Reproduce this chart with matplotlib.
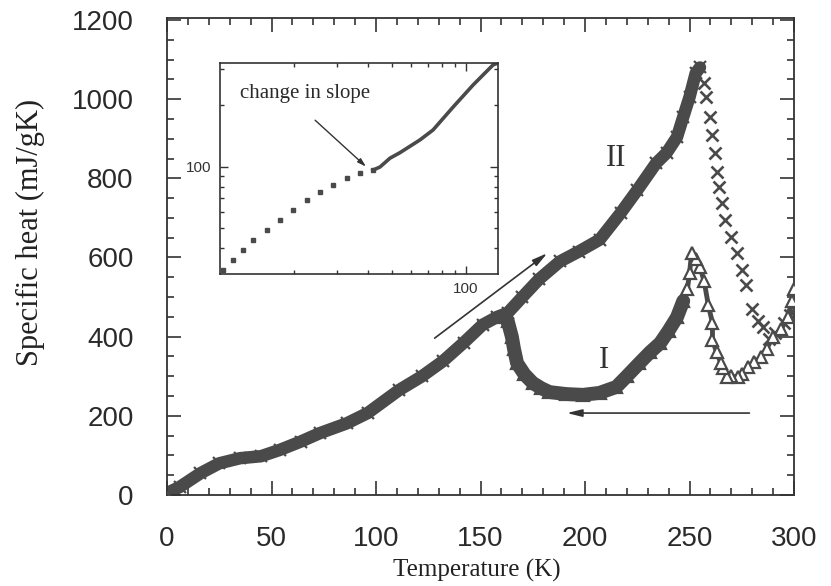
import matplotlib
matplotlib.use("Agg")
import matplotlib.pyplot as plt
from matplotlib.ticker import MultipleLocator, FixedLocator, NullFormatter, FixedFormatter

# ---------------- data ----------------
# heating branch (II), dense band, x markers
heat_T = [0, 6, 16, 25, 35, 45, 54, 64, 73, 86, 96, 111, 122, 132, 142, 151, 158, 163,
          170, 178, 188, 197, 207, 217, 225, 234, 239, 244, 247, 250, 253, 255]
heat_C = [5, 20, 55, 80, 93, 98, 114, 135, 156, 181, 207, 265, 300, 338, 385, 430, 450, 460,
          500, 545, 590, 615, 645, 712, 770, 838, 864, 904, 955, 1005, 1066, 1080]
# heating branch after the peak, sparse x markers
drop_T = [257, 258, 260, 261, 262, 263, 264, 265.5, 267, 270, 272.5, 275, 277, 280, 283,
          285, 288, 291, 295, 298, 300]
drop_C = [1040, 1005, 955, 909, 864, 816, 778, 737, 694, 652, 611, 568, 530, 470, 440,
          424, 395, 410, 434, 455, 470]
# cooling branch (I), triangles
cool_T = [300, 299, 297, 294, 290, 287, 284, 281, 278, 275, 273, 270, 268, 266, 265, 263,
          261, 261, 259, 257, 255, 253, 251, 250, 249, 247, 244, 240, 236, 231, 226, 220,
          215, 207, 199, 191, 183, 179, 175, 171, 167.5, 166, 165, 163, 161]
cool_C = [520, 490, 450, 420, 400, 370, 348, 335, 323, 305, 298, 300, 298, 320, 333, 360,
          391, 434, 480, 540, 576, 595, 611, 560, 520, 490, 449, 415, 384, 360, 333, 300,
          273, 258, 253, 255, 260, 270, 283, 305, 333, 370, 400, 440, 450]
# inset (log-log): sparse dots below the kink, continuous above
inset_dot_T = [10.3, 11.3, 12.4, 13.6, 15.5, 17.5, 19.8, 22.6, 25.5, 28.8, 32.8, 37.1, 41.9]
inset_dot_C = [31.4, 35.1, 39.3, 43.9, 49.1, 55.0, 61.5, 68.8, 75.3, 81.4, 88.1, 93.2, 96.3]
inset_line_T = [41.9, 44.7, 49.1, 53.9, 65.0, 73.5, 88.6, 106.9, 128.8, 135]
inset_line_C = [96.3, 99.6, 110, 117, 135, 151, 195, 250, 313, 320]

xticks = [0, 50, 100, 150, 200, 250, 300]
yticks = [0, 200, 400, 600, 800, 1000, 1200]

INK = "#4a4a4a"
AX = "#333333"
SANS = ["Liberation Sans", "DejaVu Sans"]
SERIF = ["Liberation Serif", "DejaVu Serif"]

fig = plt.figure(figsize=(8.31, 5.86), dpi=100)
ax = fig.add_axes([167/831, 1-495/586, (794-167)/831, (495-18)/586])

# dense bands
ax.plot(heat_T, heat_C, color=INK, lw=9, solid_capstyle="round", zorder=2)
ax.plot(heat_T, heat_C, ls="none", marker="x", ms=9, mew=1.6, color=INK, zorder=3)
ax.plot(drop_T, drop_C, ls="none", marker="x", ms=8, mew=1.9, color=INK, zorder=3)
ax.plot(cool_T, cool_C, color=INK, lw=3.5, solid_capstyle="round", zorder=2)
band_T = [t for t in cool_T if t <= 247]
band_C = [c for t, c in zip(cool_T, cool_C) if t <= 247]
ax.plot(band_T, band_C, color=INK, lw=10, solid_capstyle="round", zorder=2)
ax.plot(cool_T, cool_C, ls="none", marker="^", ms=9, mfc="white", mec=INK, mew=1.6, zorder=4)
ax.plot(band_T, band_C, ls="none", marker="^", ms=8, mfc=INK, mec=INK, mew=1.2, zorder=5)

ax.set_xlim(0, 300)
ax.set_ylim(0, 1205)
ax.xaxis.set_major_locator(FixedLocator(xticks))
ax.yaxis.set_major_locator(FixedLocator(yticks))
ax.xaxis.set_minor_locator(MultipleLocator(10))
ax.yaxis.set_minor_locator(MultipleLocator(50))
ax.tick_params(which="both", direction="in", top=True, right=True, colors=AX, width=1.2)
ax.tick_params(which="major", length=10)
ax.tick_params(which="minor", length=5)
ax.tick_params(axis="y", which="major", pad=24, labelsize=20)
ax.tick_params(axis="x", which="major", pad=22, labelsize=20)
for lab in ax.get_xticklabels() + ax.get_yticklabels():
    lab.set_fontfamily(SANS)
    lab.set_color("#2a2a2a")
for s in ax.spines.values():
    s.set_color(AX)
    s.set_linewidth(1.3)

ax.set_xlabel("Temperature (K)", fontsize=18, family=SERIF, color="#222222")
ax.set_ylabel("Specific heat (mJ/gK)", fontsize=22, family=SERIF, color="#222222")
ax.xaxis.set_label_coords(0.4936, -0.134)
ax.yaxis.set_label_coords(-0.195, 0.551)

# annotations
ax.text(215, 851, "II", fontsize=22, family=SERIF, color=AX, ha="center", va="center")
ax.text(209, 341, "I", fontsize=22, family=SERIF, color=AX, ha="center", va="center")
ax.annotate("", xy=(183, 615), xytext=(127, 392),
            arrowprops=dict(arrowstyle="-|>,head_length=0.9,head_width=0.22", color=AX, lw=1.2))
ax.annotate("", xy=(190, 207), xytext=(280, 207),
            arrowprops=dict(arrowstyle="-|>,head_length=0.9,head_width=0.22", color=AX, lw=1.2))

# inset
ins = fig.add_axes([220/831, 1-274/586, (498-220)/831, (274-63)/586])
ins.set_xscale("log")
ins.set_yscale("log")
ins.plot(inset_dot_T, inset_dot_C, ls="none", marker="s", ms=2.2, color=INK)
ins.plot(inset_line_T, inset_line_C, color=INK, lw=2.6)
ins.set_xlim(10, 135)
ins.set_ylim(30, 320)
ins.xaxis.set_major_locator(FixedLocator([100]))
ins.yaxis.set_major_locator(FixedLocator([100]))
ins.xaxis.set_major_formatter(FixedFormatter(["100"]))
ins.yaxis.set_major_formatter(FixedFormatter(["100"]))
ins.xaxis.set_minor_locator(FixedLocator([20, 30, 40, 50, 60, 70, 80, 90]))
ins.yaxis.set_minor_locator(FixedLocator([40, 50, 60, 70, 80, 90, 200, 300]))
ins.xaxis.set_minor_formatter(NullFormatter())
ins.yaxis.set_minor_formatter(NullFormatter())
ins.tick_params(which="both", direction="in", top=True, right=True, colors=AX, width=1.0,
                labelsize=11, pad=6)
ins.tick_params(which="major", length=6)
ins.tick_params(which="minor", length=3)
for lab in ins.get_xticklabels() + ins.get_yticklabels():
    lab.set_fontfamily(SANS)
for s in ins.spines.values():
    s.set_color(AX)
    s.set_linewidth(1.2)
ins.text(0.072, 0.855, "change in slope", transform=ins.transAxes, fontsize=15, family=SERIF,
         color="#2a2a2a", va="center")
ins.annotate("", xy=(40, 98), xytext=(23.9, 172),
             arrowprops=dict(arrowstyle="-|>,head_length=0.5,head_width=0.15", color=AX, lw=1.0))

fig.savefig("out.png", dpi=100)
